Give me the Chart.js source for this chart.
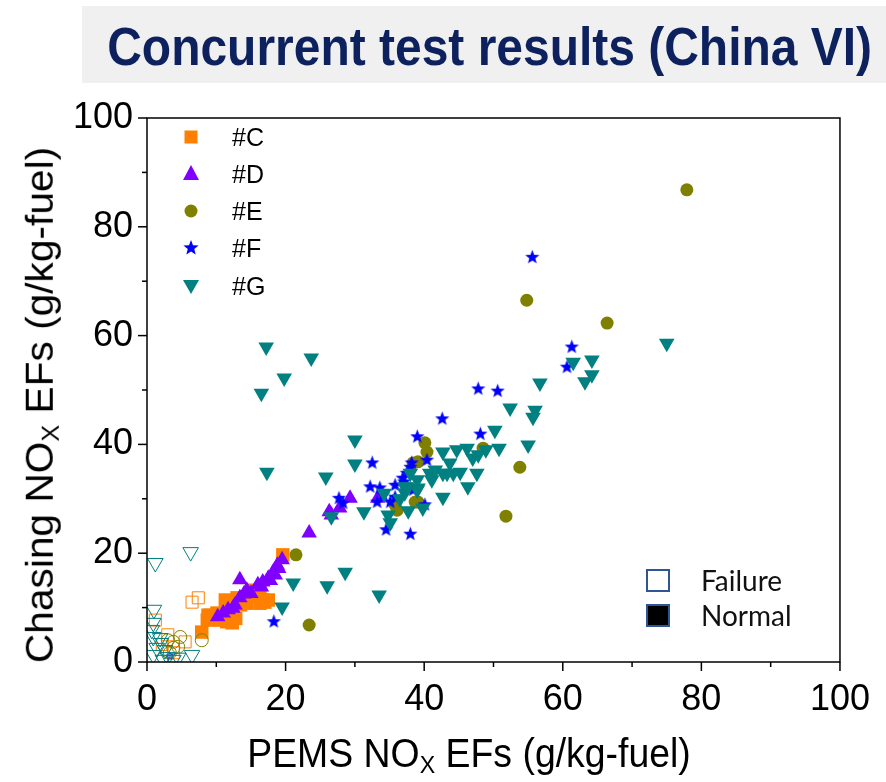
<!DOCTYPE html>
<html><head><meta charset="utf-8">
<script src="https://cdn.jsdelivr.net/npm/chart.js@4/dist/chart.umd.min.js"></script>
<style>
body{margin:0;width:886px;height:782px;position:relative;background:#fff;overflow:hidden;font-family:"Liberation Sans",Arial,sans-serif}
#titlebox{position:absolute;left:82px;top:6px;width:804px;height:77px;background:#f0f0f0}
#title{position:absolute;left:-13px;width:804px;top:11px;text-align:center;font-family:"Liberation Sans",Arial,sans-serif;font-weight:bold;font-size:53px;line-height:60px;color:#0c215e;white-space:nowrap;transform:scaleX(0.905);transform-origin:50% 50%}
#c{position:absolute;left:0;top:0}
.ttl{position:absolute;white-space:nowrap;color:#000;line-height:1}
.ttl sub{font-size:0.62em;vertical-align:-0.25em}
#xt{left:469px;top:755px;transform:translate(-50%,-50%) scaleX(0.935);font-size:40px}
#yt{left:42px;top:405px;transform:translate(-50%,-50%) rotate(-90deg) scaleX(1.07);font-size:38px}
.lg{position:absolute;left:175px;height:30px;display:flex;align-items:center;font-size:25px;color:#000}
.lg svg{width:32px;height:30px;margin-right:25px}
.fl{position:absolute;left:646px;height:28px;display:flex;align-items:center;font-family:Lato,"Open Sans",sans-serif;font-size:28px;color:#111}
.fl span.b{display:inline-block;width:20px;height:19px;border:2.5px solid #2f5597;margin-right:31px}
</style></head>
<body>
<div id="titlebox"><div id="title">Concurrent test results (China VI)</div></div>
<canvas id="c" width="886" height="782"></canvas>
<div class="ttl" id="xt">PEMS NO<sub>X</sub> EFs (g/kg-fuel)</div>
<div class="ttl" id="yt">Chasing NO<sub>X</sub> EFs (g/kg-fuel)</div>

<div class="lg" style="top:122px"><svg viewBox="0 0 32 30"><rect x="9.5" y="8.5" width="13" height="13" fill="#ff8000"/></svg>#C</div>
<div class="lg" style="top:159px"><svg viewBox="0 0 32 30"><polygon points="16,6 24,21 8,21" fill="#8000ff"/></svg>#D</div>
<div class="lg" style="top:196px"><svg viewBox="0 0 32 30"><circle cx="16" cy="15" r="6.5" fill="#808000"/></svg>#E</div>
<div class="lg" style="top:233px"><svg viewBox="0 0 32 30"><polygon id="lstar" fill="#0000ff"/></svg>#F</div>
<div class="lg" style="top:271px"><svg viewBox="0 0 32 30"><polygon points="8,9 24,9 16,23" fill="#008080"/></svg>#G</div>

<div class="fl" style="top:566px"><span class="b" style="background:#fff"></span>Failure</div>
<div class="fl" style="top:601px"><span class="b" style="background:#000"></span>Normal</div>

<script>
// ---- data: [PEMS NOx EF, Chasing NOx EF] (g/kg-fuel) ----
const seriesNames = ['#C', '#D', '#E', '#F', '#G'];
const xTicks = [0, 20, 40, 60, 80, 100];
const yTicks = [0, 20, 40, 60, 80, 100];

const cNormal = [[19.6,19.7],[16.7,11.4],[16.3,12.9],[15.3,13.2],[14.4,12.0],[13.0,11.8],[12.0,11.0],[11.5,9.6],[10.1,9.0],[9.1,8.6],[8.7,7.7],[7.9,5.5],[11.5,7.4],[10.5,7.7],[12.3,7.2],[16.3,10.8],[17.5,11.4],[14.4,10.8],[13.5,10.5],[11.0,8.2],[12.8,8.0],[17.0,11.0],[15.9,12.3],[8.8,8.6],[11.3,11.4]];
const cFailure = [[7.4,11.8],[6.5,11.0],[1.2,7.7],[3.0,5.0],[5.5,3.7],[3.8,1.7],[2.2,3.2]];

const dNormal = [[23.4,23.7],[19.5,18.8],[18.8,17.8],[18.2,16.5],[17.5,15.4],[16.7,14.7],[16.0,14.2],[13.4,15.1],[14.4,13.2],[13.4,11.8],[12.7,10.5],[11.7,9.6],[10.2,8.3],[12.4,9.9],[26.3,27.6],[27.8,28.3],[29.3,30.1],[33.3,30.1],[19.0,17.2],[18.5,16.0],[17.8,15.0],[15.0,12.6],[14.0,12.5],[11.0,9.0],[16.5,13.8],[26.6,27.0]];

const eNormal = [[77.9,86.8],[54.8,66.5],[66.4,62.3],[53.8,35.8],[51.8,26.8],[23.4,6.8],[21.5,19.7],[40.1,40.3],[40.4,38.6],[48.5,39.3],[39.1,36.8],[38.4,36.6],[39.1,29.4],[36.1,27.9],[35.8,28.9],[38.7,29.4]];
const eFailure = [[4.8,4.6],[3.8,3.7],[3.0,4.0],[4.5,2.8],[7.9,4.0],[3.8,2.6],[3.3,1.7]];

const fNormal = [[55.6,74.4],[61.3,57.9],[60.6,54.2],[47.8,50.2],[50.6,49.8],[42.6,44.7],[48.1,41.9],[39.0,41.4],[40.4,37.1],[38.2,36.6],[37.5,34.7],[40.1,28.9],[32.5,36.6],[32.2,32.2],[33.6,32.0],[35.8,32.5],[36.9,33.8],[38.0,35.8],[27.7,30.1],[33.2,29.4],[34.1,30.7],[35.8,30.3],[35.1,29.4],[34.5,24.3],[38.0,23.5],[37.1,33.1],[38.4,31.6],[18.3,7.4],[28.3,29.2]];
const fFailure = [[3.3,1.1]];

const gNormal = [[17.2,57.9],[23.7,55.9],[19.8,52.2],[16.5,49.4],[17.3,34.9],[25.8,34.0],[26.6,26.7],[30.0,40.8],[30.0,36.4],[31.3,27.6],[34.8,27.0],[35.1,25.6],[34.2,31.0],[37.7,27.8],[39.8,28.3],[42.7,30.3],
  [42.7,38.6],[44.7,39.0],[46.2,39.3],[47.0,37.5],[43.3,34.7],[45.2,34.9],[41.6,35.3],[41.1,33.5],[39.0,33.5],[38.0,34.7],[37.5,32.2],[39.0,31.6],[46.3,32.2],[47.6,34.7],[43.7,36.6],[48.9,39.0],[50.8,39.3],[47.8,38.1],[40.8,34.7],[42.7,34.7],[44.2,34.7],[37.2,32.2],[39.1,32.0],[37.2,31.1],[36.5,30.0],
  [56.7,51.3],[52.4,46.7],[56.0,46.3],[55.7,45.0],[50.2,42.6],[55.0,39.9],[75.0,58.6],[64.2,55.5],[61.5,55.1],[64.2,52.8],[63.2,51.5],
  [21.1,14.5],[26.0,14.0],[28.6,16.5],[33.5,12.3],[19.5,10.1]];
const gFailure = [[1.2,18.2],[6.3,20.2],[1.0,9.6],[0.7,5.9],[0.9,4.6],[1.9,4.4],[1.4,2.6],[2.6,2.2],[0.9,1.3],[3.0,0.9],[6.5,1.3],[2.3,0.4],[3.8,0.4],[0.9,7.2],[2.0,3.5],[4.5,0.8]];

const colors = {C:'#ff8000', D:'#8000ff', E:'#808000', F:'#0000ff', G:'#008080'};

function starPts(cx, cy, R, r){
  const p=[]; for(let i=0;i<10;i++){const a=-Math.PI/2+i*Math.PI/5;const rr=i%2?r:R;p.push([cx+rr*Math.cos(a),cy+rr*Math.sin(a)]);} return p;
}
document.getElementById('lstar').setAttribute('points', starPts(16,15,8,3.4).map(p=>p.join(',')).join(' '));

function starImg(size, fill, stroke){
  const c=document.createElement('canvas'); c.width=c.height=size;
  const x=c.getContext('2d'); const p=starPts(size/2,size/2,size/2-1,(size/2-1)*0.42);
  x.beginPath(); p.forEach((q,i)=>i?x.lineTo(q[0],q[1]):x.moveTo(q[0],q[1])); x.closePath();
  if(fill){x.fillStyle=fill;x.fill();}
  if(stroke){x.strokeStyle=stroke;x.lineWidth=1;x.stroke();}
  return c;
}
const toXY = a => a.map(p=>({x:p[0], y:p[1]}));

function ds(label, data, style, color, filled, radius, order, rot){
  return {label, data: toXY(data), pointStyle: style, pointRadius: radius, pointHoverRadius: radius,
    pointRotation: rot||0, backgroundColor: filled ? color : 'rgba(0,0,0,0)', borderColor: color,
    borderWidth: filled ? 0 : 1, order, showLine:false};
}

const datasets = [
  ds(seriesNames[4], gNormal, 'triangle', colors.G, true, 9, 1, 180),
  ds(seriesNames[4]+' failure', gFailure, 'triangle', colors.G, false, 9, 1, 180),
  ds(seriesNames[3], fNormal, starImg(17, colors.F, null), colors.F, true, 8, 2),
  ds(seriesNames[3]+' failure', fFailure, starImg(9, null, colors.F), colors.F, false, 4, 2),
  ds(seriesNames[2], eNormal, 'circle', colors.E, true, 6.5, 3),
  ds(seriesNames[2]+' failure', eFailure, 'circle', colors.E, false, 6.5, 3),
  ds(seriesNames[1], dNormal, 'triangle', colors.D, true, 9, 4),
  ds(seriesNames[0], cNormal, 'rect', colors.C, true, 9.5, 5),
  ds(seriesNames[0]+' failure', cFailure, 'rect', colors.C, false, 8.5, 5),
];

const frameTicks = {
  id:'frameTicks',
  afterDraw(chart){
    const {ctx, chartArea:a, scales:{x, y}} = chart;
    ctx.save(); ctx.strokeStyle='#000'; ctx.lineWidth=1.5;
    ctx.strokeRect(a.left, a.top, a.right-a.left, a.bottom-a.top);
    for(let v=x.min; v<=x.max; v+=10){
      const len = xTicks.includes(v) ? 9 : 5; const px = x.getPixelForValue(v);
      ctx.beginPath(); ctx.moveTo(px, a.bottom); ctx.lineTo(px, a.bottom+len); ctx.stroke();
    }
    for(let v=y.min; v<=y.max; v+=10){
      const len = yTicks.includes(v) ? 9 : 5; const py = y.getPixelForValue(v);
      ctx.beginPath(); ctx.moveTo(a.left, py); ctx.lineTo(a.left-len, py); ctx.stroke();
    }
    ctx.restore();
  }
};

const tickFont = {family:'"Liberation Sans",Arial,sans-serif', size:36};
new Chart(document.getElementById('c'), {
  type:'scatter',
  data:{datasets},
  options:{
    responsive:false, animation:false, devicePixelRatio:1,
    layout:{padding:{left:0, right:46, top:118, bottom:0}},
    plugins:{legend:{display:false}, tooltip:{enabled:false}},
    scales:{
      x:{type:'linear', min:0, max:100,
        grid:{display:false, drawTicks:false}, border:{display:false},
        ticks:{stepSize:20, padding:16, color:'#000', font:tickFont, maxRotation:0,
          callback:v => xTicks.includes(v) ? String(v) : ''},
        afterFit:s => { s.height = 120; }},
      y:{type:'linear', min:0, max:100,
        grid:{display:false, drawTicks:false}, border:{display:false},
        ticks:{stepSize:20, padding:14, color:'#000', font:tickFont,
          callback:v => yTicks.includes(v) ? String(v) : ''},
        afterFit:s => { s.width = 147; }}
    }
  },
  plugins:[frameTicks]
});
</script>
</body></html>
